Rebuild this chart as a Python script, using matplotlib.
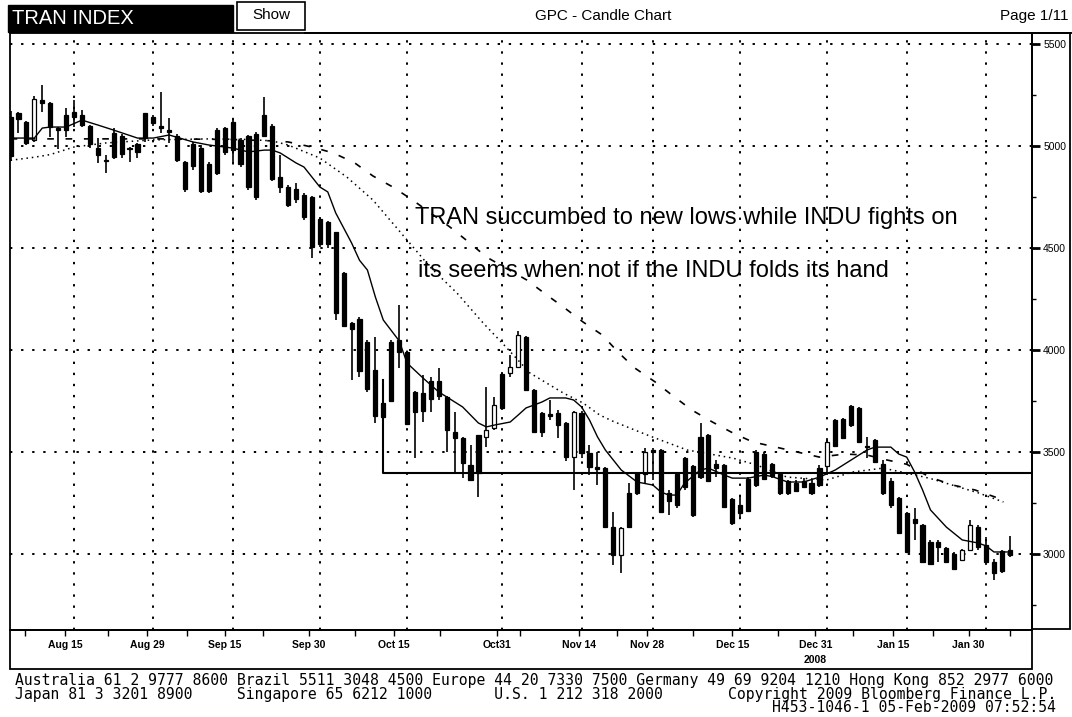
import matplotlib
matplotlib.use("Agg")
import matplotlib.pyplot as plt
from matplotlib.patches import Rectangle
from matplotlib.lines import Line2D
import numpy as np

# ---- data (trading-day index 0 = 5 Aug) ----
opens = [5140, 5162, 5118, 5030, 5225, 5210, 5090, 5150, 5165, 5150,
         5100, 4990, 4930, 5065, 5050, 4990, 5010, 5160, 5142, 5100,
         5080, 5050, 4920, 5010, 4990, 4910, 5080, 5090, 5120, 5030,
         5050, 5060, 5150, 5100, 4848, 4800, 4790, 4760, 4750, 4640,
         4627, 4578, 4377, 4132, 4150, 4040, 3900, 3740, 4040, 4049,
         3990, 3794, 3789, 3850, 3850, 3770, 3598, 3569, 3436, 3583,
         3574, 3618, 3880, 3887, 3917, 4064, 3804, 3690, 3687, 3691,
         3642, 3475, 3691, 3495, 3426, 3421, 3132, 2995, 3300, 3397,
         3390, 3510, 3510, 3300, 3390, 3470, 3430, 3574, 3583, 3440,
         3436, 3270, 3240, 3370, 3500, 3490, 3440, 3390, 3360, 3350,
         3360, 3350, 3420, 3430, 3657, 3660, 3725, 3715, 3530, 3559,
         3440, 3360, 3275, 3200, 3172, 3142, 3060, 3060, 3029, 3000,
         2971, 3020, 3132, 3044, 2961, 3015, 3020]
highs = [5170, 5165, 5125, 5245, 5300, 5215, 5093, 5186, 5225, 5176,
         5105, 5040, 4956, 5090, 5060, 4995, 5015, 5162, 5150, 5265,
         5137, 5060, 4925, 5020, 5005, 4920, 5088, 5093, 5127, 5039,
         5054, 5069, 5240, 5110, 4956, 4809, 4819, 4770, 4755, 4652,
         4630, 4580, 4380, 4135, 4162, 4050, 4064, 3853, 4049, 4220,
         3995, 3800, 3877, 3868, 3912, 3775, 3696, 3572, 3534, 3583,
         3819, 3770, 3892, 3975, 4093, 4070, 3810, 3696, 3755, 3706,
         3645, 3700, 3700, 3534, 3500, 3425, 3206, 3130, 3348, 3400,
         3520, 3520, 3515, 3314, 3397, 3475, 3436, 3642, 3590, 3461,
         3440, 3274, 3289, 3377, 3510, 3500, 3446, 3397, 3363, 3363,
         3372, 3363, 3436, 3569, 3660, 3667, 3730, 3721, 3574, 3565,
         3461, 3372, 3279, 3206, 3225, 3145, 3069, 3069, 3035, 3010,
         3025, 3167, 3140, 3083, 2975, 3020, 3088]
lows = [4925, 5064, 5005, 5020, 5167, 5045, 4985, 5044, 5095, 5095,
        4990, 4917, 4868, 4935, 4940, 4922, 4941, 5020, 5100, 5064,
        5015, 4920, 4775, 4883, 4770, 4770, 4858, 4956, 4917, 4897,
        4785, 4735, 5044, 4830, 4770, 4701, 4721, 4637, 4451, 4505,
        4500, 4147, 4113, 3853, 3870, 3795, 3642, 3667, 3745, 3912,
        3630, 3470, 3647, 3696, 3755, 3500, 3397, 3372, 3360, 3279,
        3524, 3608, 3706, 3868, 3915, 3800, 3595, 3574, 3657, 3569,
        3456, 3314, 3470, 3387, 3338, 3130, 2946, 2907, 3127, 3290,
        3348, 3363, 3201, 3191, 3225, 3314, 3181, 3370, 3353, 3377,
        3225, 3142, 3176, 3206, 3328, 3363, 3372, 3289, 3289, 3304,
        3328, 3289, 3328, 3397, 3524, 3569, 3623, 3549, 3470, 3446,
        3289, 3225, 3103, 3005, 3069, 2956, 2946, 2961, 2955, 2922,
        2966, 3015, 3020, 2946, 2873, 2907, 2985]
closes = [4950, 5132, 5015, 5230, 5212, 5095, 5080, 5080, 5140, 5105,
          5008, 4958, 4925, 4945, 4960, 4985, 4970, 5040, 5112, 5090,
          5068, 4930, 4790, 4900, 4780, 4780, 4870, 4970, 4980, 4910,
          4800, 4750, 5050, 4840, 4799, 4710, 4740, 4650, 4505, 4520,
          4520, 4181, 4120, 4105, 3895, 3810, 3675, 3670, 3750, 3990,
          3635, 3696, 3700, 3760, 3775, 3610, 3569, 3446, 3363, 3397,
          3608, 3730, 3715, 3917, 4074, 3804, 3598, 3600, 3677, 3632,
          3475, 3696, 3495, 3426, 3417, 3132, 2995, 3127, 3130, 3299,
          3500, 3500, 3205, 3260, 3240, 3330, 3190, 3377, 3360, 3420,
          3230, 3150, 3201, 3210, 3340, 3370, 3380, 3300, 3300, 3310,
          3330, 3300, 3340, 3550, 3530, 3570, 3630, 3550, 3525, 3450,
          3300, 3240, 3105, 3010, 3152, 2960, 2950, 3035, 2961, 2925,
          3020, 3142, 3034, 2961, 2907, 2915, 2995]

# moving averages read at sample points (index, value)
ma_fast_idx = [0, 3, 4, 5, 7, 9, 11, 13, 16, 18, 20, 23, 25, 28, 30, 32, 33, 34, 36, 37,
               38, 39, 40, 41, 43, 44, 45, 46, 47, 49, 50, 52, 54, 55, 57, 59, 60, 61, 63,
               64, 65, 67, 68, 70, 71, 72, 73, 74, 75, 77, 79, 81, 82, 83, 84, 85, 87, 88,
               90, 91, 93, 95, 96, 98, 100, 102, 104, 106, 108, 109, 111, 112, 113, 114,
               115, 116, 118, 120, 122, 123, 124, 126]
ma_fast_val = [5039, 5039, 5088, 5093, 5093, 5127, 5103, 5078, 5039, 5039, 5054, 5020,
               5005, 4990, 4971, 4980, 4980, 4966, 4917, 4897, 4848, 4799, 4775, 4672,
               4525, 4440, 4392, 4260, 4147, 4045, 3936, 3863, 3794, 3770, 3721, 3642,
               3623, 3632, 3647, 3681, 3716, 3745, 3765, 3765, 3755, 3721, 3657, 3575,
               3510, 3412, 3353, 3338, 3304, 3289, 3289, 3348, 3412, 3421, 3387, 3372,
               3372, 3387, 3380, 3353, 3353, 3377, 3412, 3461, 3510, 3524, 3524, 3490,
               3475, 3402, 3314, 3216, 3132, 3069, 3054, 3040, 3010, 3010]
ma_mid_idx = [0, 3, 5, 8, 12, 18, 25, 30, 33, 35, 39, 42.4, 45.7, 50, 52.9, 56.3, 59.6,
              62.1, 65.5, 69.7, 72.2, 74.3, 76, 80.5, 85.3, 91.1, 94.1, 97.9, 102.9,
              106.2, 110, 113, 116, 119, 122, 125.2]
ma_mid_val = [4930, 4945, 4958, 4995, 5015, 5030, 5035, 5032, 5025, 5005, 4941, 4848,
              4735, 4539, 4407, 4279, 4132, 4030, 3887, 3789, 3740, 3681, 3650, 3580,
              3510, 3470, 3436, 3377, 3363, 3402, 3421, 3397, 3370, 3335, 3300, 3255]
ma_slow_idx = [0, 10, 20, 28, 33, 35, 38, 40.7, 43.4, 45.7, 48.2, 50.7, 55.4, 57.9, 60,
               65.1, 67.6, 69.7, 72.2, 74.6, 76.6, 78.7, 81.3, 83.4, 85.9, 88.5, 91.1,
               93.6, 96.4, 99.2, 102, 105.2, 108, 110.5, 113, 115.9, 118.8, 121.6, 125.2]
ma_slow_val = [5035, 5035, 5035, 5032, 5025, 5020, 4995, 4966, 4917, 4853, 4799, 4735,
               4603, 4525, 4456, 4343, 4270, 4211, 4137, 4074, 3990, 3912, 3843, 3779,
               3706, 3647, 3593, 3549, 3525, 3500, 3475, 3490, 3485, 3461, 3440, 3377,
               3338, 3314, 3265]

support_start = 47
support_top = 3853
support_level = 3397

date_labels = ["Aug 15", "Aug 29", "Sep 15", "Sep 30", "Oct 15", "Oct31",
               "Nov 14", "Nov 28", "Dec 15", "Dec 31", "Jan 15", "Jan 30"]
grid_days = [8, 18, 28, 39, 50, 62, 72, 81, 92, 103, 113, 123]
label_pos = [6.9, 17.2, 27.0, 37.6, 48.3, 61.3, 71.7, 80.3, 91.0, 101.5, 111.3, 120.8]
minor_pos = [1.8, 12.3, 22.2, 31.8, 43.4, 54.2, 64.2, 76.5, 86.1, 96.8, 106.2, 116.3, 126.0]
price_ticks = [3000, 3500, 4000, 4500, 5000, 5500]

W, H = 1072, 717
fig = plt.figure(figsize=(W / 100, H / 100), dpi=100)
fig.patch.set_facecolor("white")


def fx(x):
    return x / W


def fy(y):
    return 1 - y / H


# main plot area (pixels 10..1032 x 33..630)
ax = fig.add_axes([fx(10), fy(630), fx(1022), (630 - 33) / H])
ax.set_xlim(-0.07, 128.8)
ax.set_ylim(2627.5, 5554)

dots = (0, (1.2, 4.5))
for d in grid_days:
    ax.axvline(d, color="black", lw=1.4, linestyle=dots, zorder=1)
for p in price_ticks:
    ax.axhline(p, color="black", lw=1.4, linestyle=dots, zorder=1)

idx = np.arange(len(closes))
o = np.array(opens)
c = np.array(closes)
ax.vlines(idx, lows, highs, color="black", lw=1.2, zorder=3)
face = np.where(c > o, "white", "black")
ax.bar(idx, np.maximum(np.abs(c - o), 4), bottom=np.minimum(o, c), width=0.52,
       color=face, edgecolor="black", linewidth=0.9, zorder=4)

ax.plot(ma_fast_idx, ma_fast_val, color="black", lw=1.0, zorder=5)
ax.plot(ma_mid_idx, ma_mid_val, color="black", lw=1.1, linestyle=(0, (1, 2.5)), zorder=5)
ax.plot(ma_slow_idx, ma_slow_val, color="black", lw=1.2, linestyle=(0, (4, 7)), zorder=5)

ax.plot([support_start, support_start, 128.8],
        [support_top, support_level, support_level], color="black", lw=1.5, zorder=6)

ax.text(51.0, 4647, "TRAN succumbed to new lows while INDU fights on",
        fontsize=17, family="Liberation Sans", va="center", ha="left", zorder=7)
ax.text(51.4, 4387, "its seems when not if the INDU folds its hand",
        fontsize=17, family="Liberation Sans", va="center", ha="left", zorder=7)

# axes styling
for s in ax.spines.values():
    s.set_linewidth(1.3)
ax.yaxis.tick_right()
ax.set_yticks(price_ticks)
ax.set_yticklabels([str(p) for p in price_ticks],
                   fontsize=7.5, family=["Liberation Sans Narrow", "Liberation Sans"])
ax.set_yticks(np.arange(2750, 5500, 500), minor=True)
ax.tick_params(axis="y", which="major", direction="out", length=6, width=2, pad=2)
ax.tick_params(axis="y", which="minor", direction="out", length=3, width=1)

ax.set_xticks(label_pos)
ax.set_xticklabels(date_labels, fontsize=7.5, fontweight="bold",
                   family=["Liberation Sans Narrow", "Liberation Sans"])
ax.set_xticks(minor_pos, minor=True)
ax.tick_params(axis="x", which="major", direction="out", length=4, width=1, pad=3)
ax.tick_params(axis="x", which="minor", direction="out", length=4, width=1)

# frames around the panels
fig.patches.append(Rectangle((fx(1032), fy(629)), fx(38), (629 - 33) / H, fill=False,
                             lw=1.3, ec="black", transform=fig.transFigure, figure=fig))
fig.patches.append(Rectangle((fx(10), fy(669)), fx(1022), (669 - 630) / H, fill=False,
                             lw=1.3, ec="black", transform=fig.transFigure, figure=fig))
fig.lines.append(Line2D([fx(305), fx(1072)], [fy(33), fy(33)], color="black", lw=1.3,
                        transform=fig.transFigure, figure=fig))
fig.text(fx(815), fy(660), "2008", fontsize=7.5, fontweight="bold",
         family=["Liberation Sans Narrow", "Liberation Sans"], ha="center", va="center")

# header
fig.patches.append(Rectangle((fx(8), fy(32)), fx(225), 27 / H, color="black",
                             transform=fig.transFigure, figure=fig))
fig.text(fx(12), fy(19), "TRAN INDEX", color="white", fontsize=14.5,
         family="Liberation Sans", ha="left", va="center")
fig.patches.append(Rectangle((fx(237), fy(30)), fx(68), 28 / H, fill=False, lw=1.2,
                             ec="black", transform=fig.transFigure, figure=fig))
fig.text(fx(271), fy(15), "Show", fontsize=11, family="Liberation Sans",
         ha="center", va="center")
fig.text(fx(603), fy(16), "GPC - Candle Chart", fontsize=11, family="Liberation Sans",
         ha="center", va="center")
fig.text(fx(1068), fy(16), "Page 1/11", fontsize=11, family="Liberation Sans",
         ha="right", va="center")

# footer
mono = "DejaVu Sans Mono"
fs = 10.6
fig.text(fx(15), fy(681),
         "Australia 61 2 9777 8600 Brazil 5511 3048 4500 Europe 44 20 7330 7500 "
         "Germany 49 69 9204 1210 Hong Kong 852 2977 6000",
         fontsize=fs, family=mono, ha="left", va="center")
fig.text(fx(15), fy(694),
         "Japan 81 3 3201 8900     Singapore 65 6212 1000       U.S. 1 212 318 2000",
         fontsize=fs, family=mono, ha="left", va="center")
fig.text(fx(1056), fy(694), "Copyright 2009 Bloomberg Finance L.P.",
         fontsize=fs, family=mono, ha="right", va="center")
fig.text(fx(1056), fy(707), "H453-1046-1 05-Feb-2009 07:52:54",
         fontsize=fs, family=mono, ha="right", va="center")

fig.savefig("out.png", dpi=100)
